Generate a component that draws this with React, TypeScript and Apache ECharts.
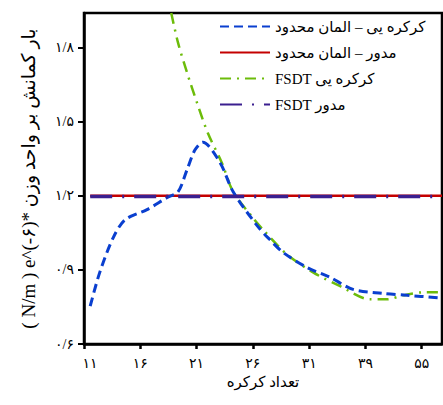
import React, { useEffect, useRef } from "react";
import * as echarts from "echarts";

// x positions are tick-index units (0 = first tick label, 1 = second, ...)
const xTickPos = [0, 1, 2, 3, 4, 5, 6];
const xTickLabels = ["۱۱", "۱۶", "۲۱", "۲۶", "۳۱", "۳۹", "۵۵"];
const yTickVals = [0.6, 0.9, 1.2, 1.5, 1.8];
const yTickLabels = ["۰/۶", "۰/۹", "۱/۲", "۱/۵", "۱/۸"];

const seriesNames = [
  "کرکره یی – المان محدود",
  "مدور – المان محدود",
  "FSDT کرکره یی",
  "FSDT مدور",
];

const bladeFemPos = [0.11, 0.28, 0.52, 0.73, 1.12, 1.47, 1.67, 1.83, 1.97, 2.11, 2.42, 2.65, 3.09, 3.3, 3.54, 3.96, 4.37, 4.78, 5.31, 5.74, 6.32];
const bladeFemVal = [0.753, 0.89, 1.031, 1.103, 1.144, 1.192, 1.216, 1.305, 1.385, 1.417, 1.333, 1.216, 1.075, 1.023, 0.97, 0.91, 0.87, 0.821, 0.805, 0.797, 0.787];

const roundFemPos = [0.11, 6.36];
const roundFemVal = [1.2, 1.2];

const bladeFsdtPos = [1.55, 1.67, 1.83, 2.01, 2.2, 2.45, 2.65, 3.0, 3.18, 3.61, 4.07, 4.55, 5.08, 5.38, 5.67, 6.02, 6.32];
const bladeFsdtVal = [1.94, 1.82, 1.699, 1.575, 1.454, 1.333, 1.216, 1.111, 1.063, 0.962, 0.89, 0.834, 0.781, 0.781, 0.797, 0.809, 0.809];

const roundFsdtPos = [0.11, 6.32];
const roundFsdtVal = [1.197, 1.197];

const yTitle = "\u200E( N/m ) e^(-۶)* بار کمانش بر واحد وزن";
const xTitle = "تعداد کرکره";

const FONT = "'Liberation Serif', 'DejaVu Sans', serif";

const pairs = (xs: number[], ys: number[]) => xs.map((x, i) => [x, ys[i]]);

export default function App() {
  const ref = useRef<HTMLDivElement>(null);
  useEffect(() => {
    if (!ref.current) return;
    const chart = echarts.init(ref.current, undefined, { renderer: "svg" });
    chart.setOption({
      animation: false,
      textStyle: { fontFamily: FONT },
      grid: {
        left: 84,
        right: 1,
        top: 13,
        bottom: 61,
        show: true,
        borderColor: "#000",
        borderWidth: 2.5,
        backgroundColor: "transparent",
      },
      legend: {
        orient: "vertical",
        left: 214,
        top: 14,
        itemWidth: 50,
        itemHeight: 14,
        itemGap: 11,
        itemStyle: { opacity: 0 },
        textStyle: { fontFamily: FONT, fontSize: 15, color: "#000" },
        data: seriesNames,
      },
      xAxis: {
        type: "value",
        min: 0,
        max: 6.36,
        name: xTitle,
        nameLocation: "middle",
        nameGap: 27,
        nameTextStyle: { fontFamily: FONT, fontSize: 15, color: "#000" },
        axisLine: { lineStyle: { color: "#000", width: 2.5 } },
        axisTick: { show: true, length: 5, lineStyle: { color: "#000", width: 2.5 }, customValues: xTickPos },
        axisLabel: {
          customValues: xTickPos,
          margin: 12,
          fontSize: 14,
          color: "#000",
          fontFamily: FONT,
          formatter: (v: number) => {
            const i = Math.round(v);
            return i === 0 ? "{f|" + xTickLabels[0] + "}" : xTickLabels[i] ?? "";
          },
          rich: { f: { padding: [0, 0, 0, 12], fontSize: 14, fontFamily: FONT, color: "#000" } },
        },
        splitLine: { show: false },
      },
      yAxis: {
        type: "value",
        min: 0.6,
        max: 1.94,
        name: yTitle,
        nameLocation: "middle",
        nameRotate: 90,
        nameGap: 46,
        nameTextStyle: { fontFamily: FONT, fontSize: 19, color: "#000" },
        axisLine: { show: true, lineStyle: { color: "#000", width: 2.5 } },
        axisTick: { show: true, length: 6, lineStyle: { color: "#000", width: 2 }, customValues: yTickVals },
        axisLabel: {
          customValues: yTickVals,
          margin: 10,
          fontSize: 14,
          color: "#000",
          fontFamily: FONT,
          formatter: (v: number) => {
            const i = yTickVals.findIndex((t) => Math.abs(t - v) < 1e-6);
            return i >= 0 ? yTickLabels[i] : "";
          },
        },
        splitLine: { show: false },
      },
      series: [
        {
          name: seriesNames[0],
          type: "line",
          data: pairs(bladeFemPos, bladeFemVal),
          smooth: 0.3,
          symbol: "none",
          lineStyle: { color: "#0a3fcf", width: 3, type: [9, 5] },
          itemStyle: { color: "#0a3fcf" },
          z: 3,
        },
        {
          name: seriesNames[1],
          type: "line",
          data: pairs(roundFemPos, roundFemVal),
          symbol: "none",
          lineStyle: { color: "#c40000", width: 2.5 },
          itemStyle: { color: "#c40000" },
          z: 2,
        },
        {
          name: seriesNames[2],
          type: "line",
          data: pairs(bladeFsdtPos, bladeFsdtVal),
          smooth: 0.3,
          symbol: "none",
          lineStyle: { color: "#6cbc0a", width: 2.5, type: [11, 6, 2, 6] },
          itemStyle: { color: "#6cbc0a" },
          z: 2,
        },
        {
          name: seriesNames[3],
          type: "line",
          data: pairs(roundFsdtPos, roundFsdtVal),
          symbol: "none",
          lineStyle: { color: "#3b1f8f", width: 3.5, type: [22, 10, 2, 10] },
          itemStyle: { color: "#3b1f8f" },
          z: 4,
        },
      ],
    });
    return () => chart.dispose();
  }, []);
  return <div ref={ref} style={{ position: "absolute", left: 0, top: 0, width: 443, height: 405 }} />;
}
